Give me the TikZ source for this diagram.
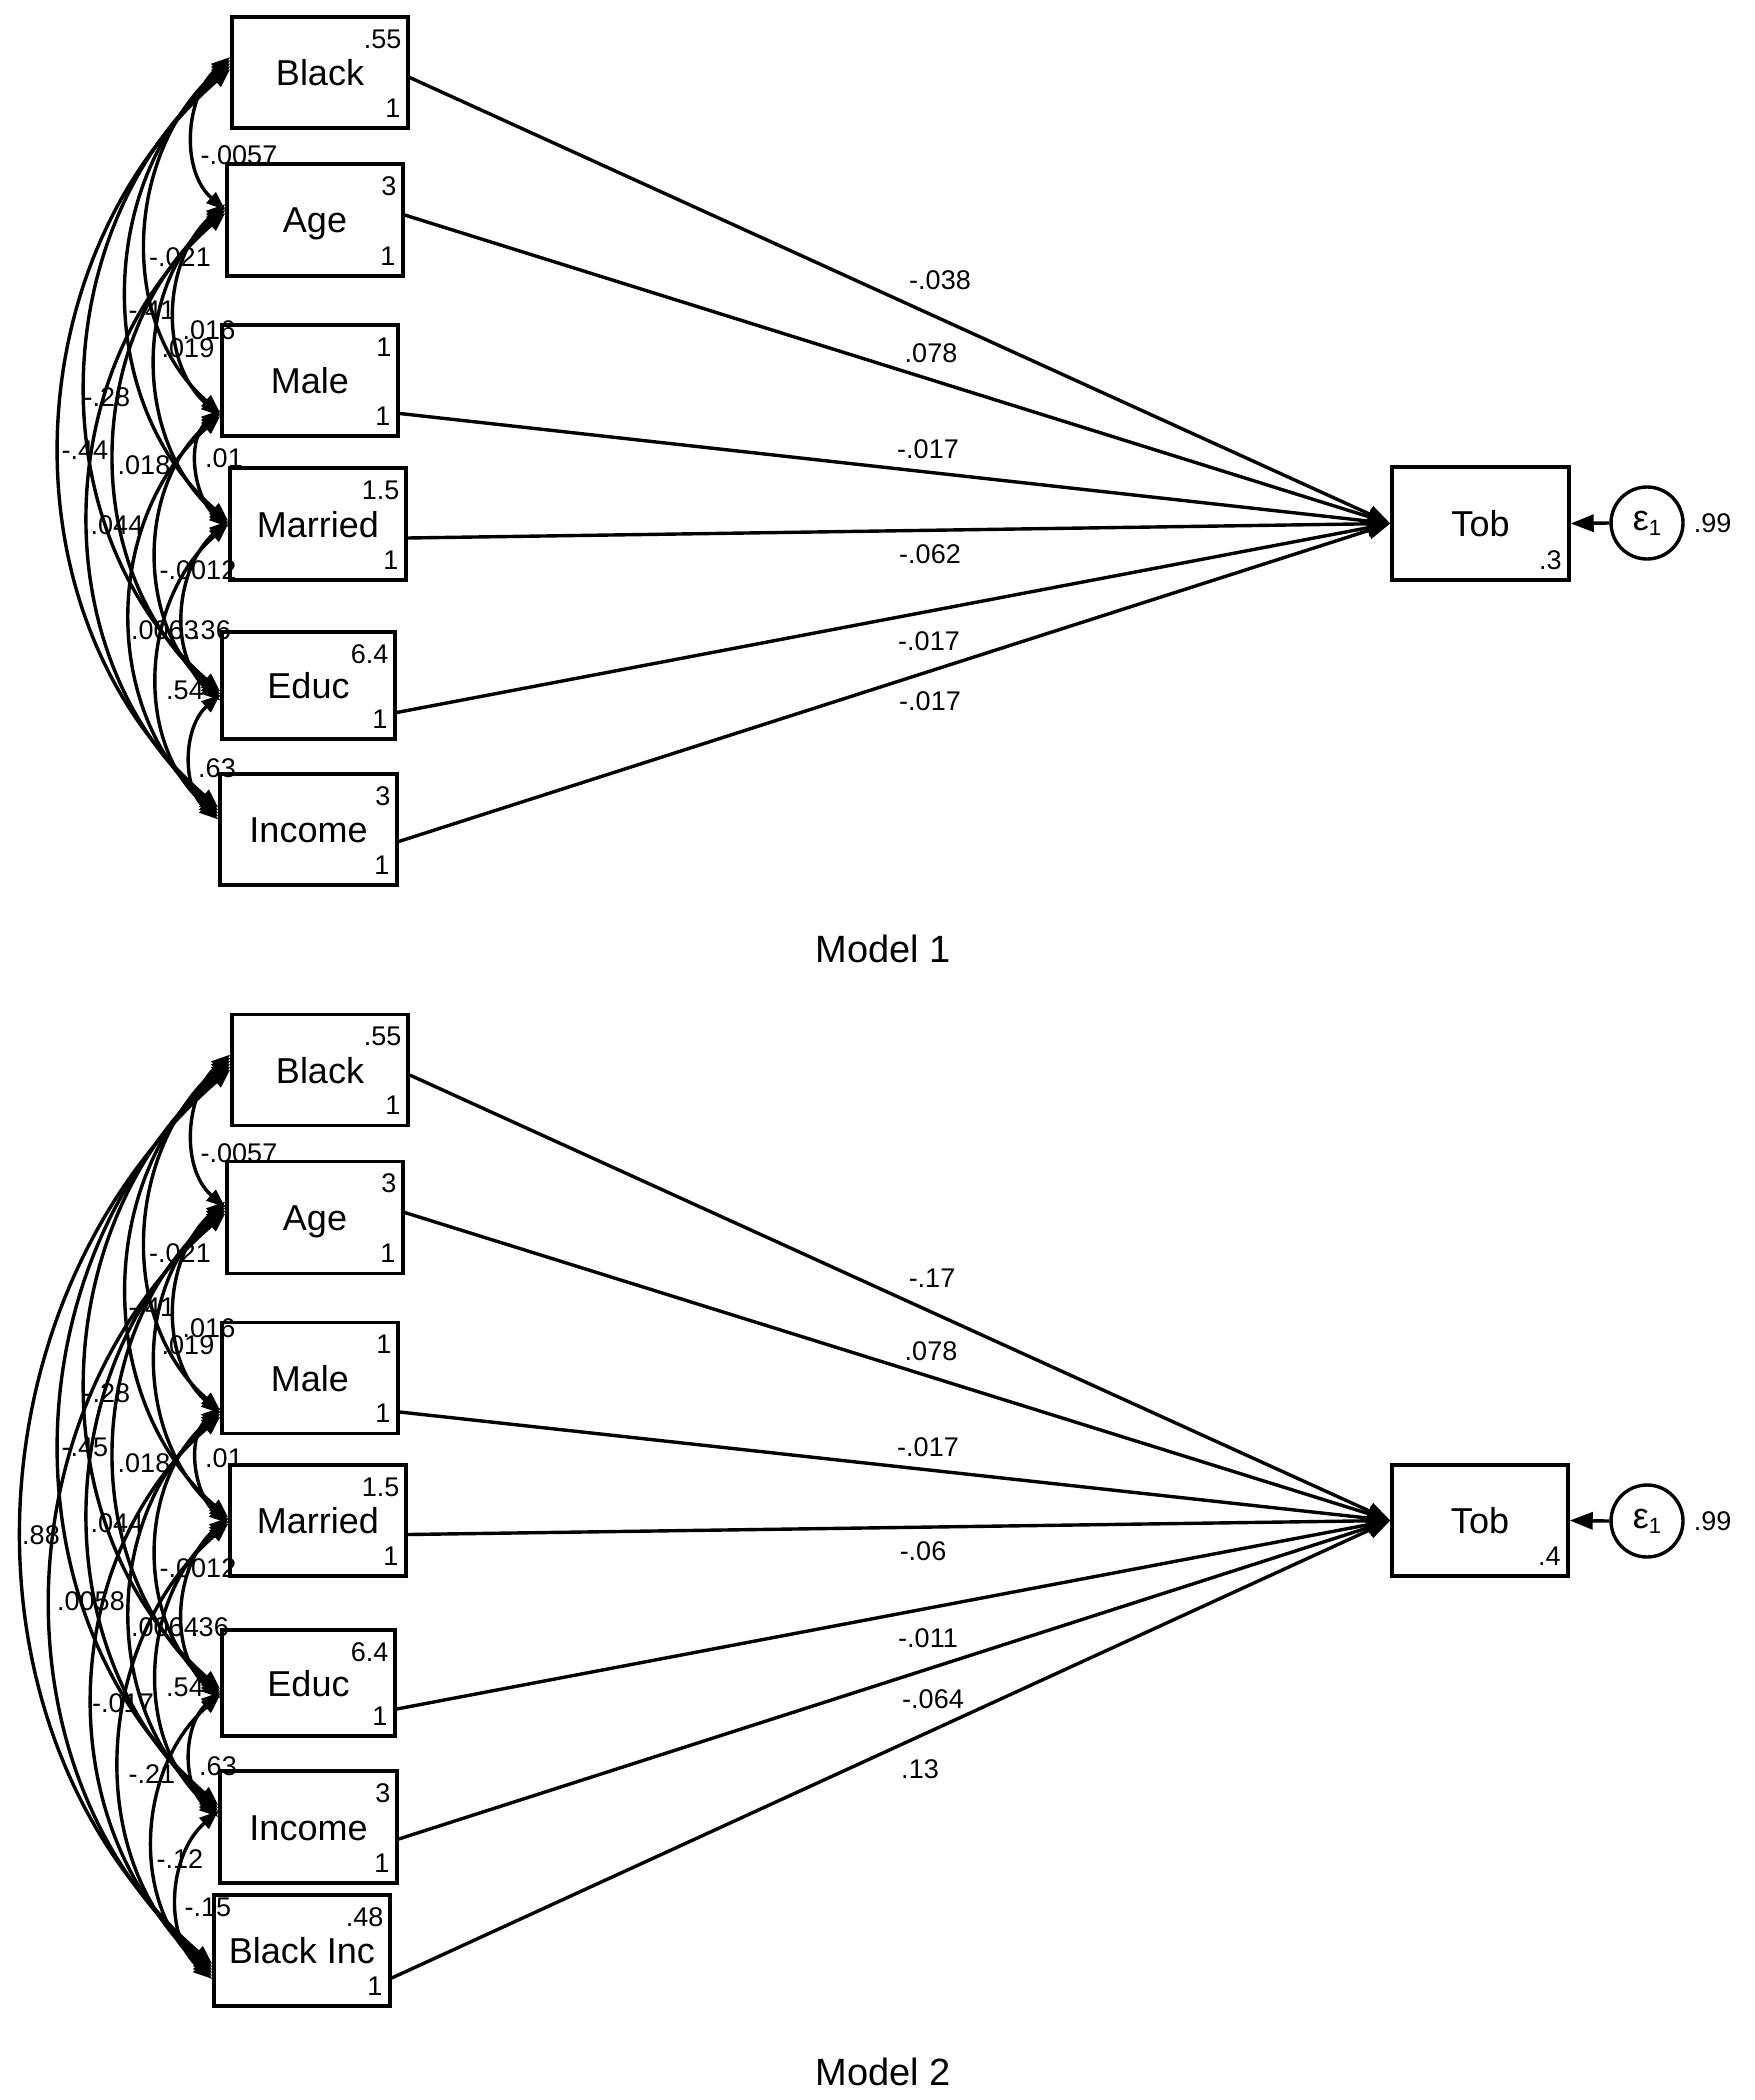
\documentclass[tikz,border=0pt]{standalone}
\usepackage{fontspec}
\setmainfont{Liberation Sans}
\usetikzlibrary{arrows.meta}
\tikzset{
  var/.style={draw, line width=3.4pt, minimum width=176pt, minimum height=111pt, inner sep=0pt,
    font=\fontsize{36}{36}\selectfont, text height=26pt, text depth=0pt},
  num/.style={inner sep=0pt, font=\fontsize{27}{27}\selectfont, text height=19.5pt, text depth=0pt, anchor=east},
  clab/.style={inner sep=0pt, font=\fontsize{27}{27}\selectfont, text height=19.5pt, text depth=0pt},
  cov/.style={line width=3.4pt, {Triangle[length=19pt,width=14pt]}-{Triangle[length=19pt,width=14pt]}},
  pth/.style={line width=3.4pt, -{Triangle[length=23pt,width=17pt]}},
  errc/.style={draw, circle, line width=3.4pt, minimum size=72pt, inner sep=0pt, font=\fontsize{36}{36}\selectfont},
  title/.style={inner sep=0pt, font=\fontsize{38}{38}\selectfont},
}
% #1 node A, #2 offset A (px down), #3 node B, #4 offset B, #5 label, #6 x, #7 y
\newcommand\covar[7]{%
  \draw[cov] ([yshift={-1pt*(#2)}]#1.west) to[out=221,in=139] ([yshift={-1pt*(#4)}]#3.west);
  \node[clab] at (#6,-#7) {#5};}
% #1 box, #2 top number, #3 bottom number
\newcommand\boxnums[3]{%
  \node[num] at ([xshift=-8pt,yshift=-23pt]#1.north east) {#2};
  \node[num] at ([xshift=-9pt,yshift=22pt]#1.south east) {#3};}
\newcommand\epsone{ε{\fontsize{22}{22}\selectfont\raisebox{-5pt}{1}}}
\begin{document}
\begin{tikzpicture}[x=1pt,y=1pt]
\useasboundingbox (0,0) rectangle (1754,-2100);
\fill[white] (0,0) rectangle (1754,-2100);

%================ Model 1 ================
\node[var] (m1b) at (320,-72.5) {Black};
\node[var, minimum height=112pt] (m1a) at (315,-220) {Age};
\node[var] (m1m) at (310,-380.5) {Male};
\node[var, minimum height=112pt] (m1r) at (318,-524) {Married};
\node[var, minimum width=173pt, minimum height=107pt] (m1e) at (308.5,-685.5) {Educ};
\node[var, minimum width=177pt] (m1i) at (308.5,-829.5) {Income};
\node[var, minimum width=177pt, minimum height=113pt] (m1t) at (1480.5,-523.5) {Tob};
\node[errc] (m1eps) at (1647,-523) {\epsone};
\node[clab, anchor=west] (m1epsv) at ([xshift=9pt]m1eps.east) {.99};
\boxnums{m1b}{.55}{1}
\boxnums{m1a}{3}{1}
\boxnums{m1m}{1}{1}
\boxnums{m1r}{1.5}{1}
\boxnums{m1e}{6.4}{1}
\boxnums{m1i}{3}{1}
\node[num] at ([xshift=-9pt,yshift=22pt]m1t.south east) {.3};

\draw[pth] ([yshift=-5pt]m1b.east) -- (m1t.west);
\draw[pth] ([yshift=5pt]m1a.east) -- (m1t.west);
\draw[pth] ([yshift=-33pt]m1m.east) -- (m1t.west);
\draw[pth] ([yshift=-14pt]m1r.east) -- (m1t.west);
\draw[pth] ([yshift=-27pt]m1e.east) -- (m1t.west);
\draw[pth] ([yshift=-12pt]m1i.east) -- (m1t.west);
\draw[pth] (m1eps.west) -- (m1t.east);
\node[clab] at (940,-280) {-.038};
\node[clab] at (931,-353) {.078};
\node[clab] at (928,-449) {-.017};
\node[clab] at (930,-554) {-.062};
\node[clab] at (929,-641) {-.017};
\node[clab] at (930,-701) {-.017};

\covar{m1b}{-15.5}{m1a}{-10}{-.0057}{239}{155}
\covar{m1a}{-16}{m1m}{35.5}{.016}{209}{330}
\covar{m1m}{29.5}{m1r}{3}{.01}{224}{458}
\covar{m1r}{-3}{m1e}{15}{.36}{212}{630}
\covar{m1e}{9}{m1i}{-10}{.63}{217}{768}
\covar{m1b}{-12.5}{m1m}{32.5}{-.021}{180}{257}
\covar{m1a}{-13}{m1r}{0}{.019}{188}{348}
\covar{m1m}{32.5}{m1e}{12}{-.0012}{198}{570}
\covar{m1r}{0}{m1i}{-13}{.54}{185}{690}
\covar{m1b}{-9.5}{m1r}{-3}{-.41}{152}{310}
\covar{m1a}{-10}{m1e}{9}{.018}{144}{465}
\covar{m1m}{35.5}{m1i}{-16}{.0063}{165}{630}
\covar{m1b}{-6.5}{m1e}{6}{-.28}{107}{397}
\covar{m1a}{-7}{m1i}{-19}{.044}{117}{525}
\covar{m1b}{-3.5}{m1i}{-22}{-.44}{85}{450}

\node[title] (m1title) at (883,-949) {Model 1};

%================ Model 2 ================
\begin{scope}[yshift=-997.5pt]
\node[var] (m2b) at (320,-72.5) {Black};
\node[var, minimum height=112pt] (m2a) at (315,-220) {Age};
\node[var] (m2m) at (310,-380.5) {Male};
\node[var] (m2r) at (318,-523) {Married};
\node[var, minimum width=173pt, minimum height=106pt] (m2e) at (308.5,-685.5) {Educ};
\node[var, minimum width=177pt, minimum height=112pt] (m2i) at (308.5,-829.5) {Income};
\node[var] (m2k) at (302,-953) {Black Inc};
\node[var] (m2t) at (1480,-523) {Tob};
\node[errc] (m2eps) at (1647,-523.5) {\epsone};
\node[clab, anchor=west] (m2epsv) at ([xshift=9pt]m2eps.east) {.99};
\boxnums{m2b}{.55}{1}
\boxnums{m2a}{3}{1}
\boxnums{m2m}{1}{1}
\boxnums{m2r}{1.5}{1}
\boxnums{m2e}{6.4}{1}
\boxnums{m2i}{3}{1}
\boxnums{m2k}{.48}{1}
\node[num] at ([xshift=-9pt,yshift=22pt]m2t.south east) {.4};

\draw[pth] ([yshift=-5pt]m2b.east) -- (m2t.west);
\draw[pth] ([yshift=5pt]m2a.east) -- (m2t.west);
\draw[pth] ([yshift=-34pt]m2m.east) -- (m2t.west);
\draw[pth] ([yshift=-14pt]m2r.east) -- (m2t.west);
\draw[pth] ([yshift=-26pt]m2e.east) -- (m2t.west);
\draw[pth] ([yshift=-12pt]m2i.east) -- (m2t.west);
\draw[pth] ([yshift=-27.5pt]m2k.east) -- (m2t.west);
\draw[pth] (m2eps.west) -- (m2t.east);
\node[clab] at (932,-280) {-.17};
\node[clab] at (931,-353.5) {.078};
\node[clab] at (928,-449.5) {-.017};
\node[clab] at (923,-553.5) {-.06};
\node[clab] at (928,-640.5) {-.011};
\node[clab] at (933,-701.5) {-.064};
\node[clab] at (920,-771.5) {.13};

\covar{m2b}{-15.5}{m2a}{-10}{-.0057}{239}{155}
\covar{m2a}{-16}{m2m}{35.5}{.016}{209}{330}
\covar{m2m}{29.5}{m2r}{3}{.01}{224}{460}
\covar{m2r}{-3}{m2e}{15}{.36}{210}{629}
\covar{m2e}{9}{m2i}{-10}{.63}{218}{768}
\covar{m2i}{-16}{m2k}{28.5}{-.15}{208}{909}
\covar{m2b}{-12.5}{m2m}{32.5}{-.021}{180}{255}
\covar{m2a}{-13}{m2r}{0}{.019}{188}{347}
\covar{m2m}{32.5}{m2e}{12}{-.0012}{198}{570}
\covar{m2r}{0}{m2i}{-13}{.54}{185}{689}
\covar{m2e}{12}{m2k}{25.5}{-.12}{180}{861}
\covar{m2b}{-9.5}{m2r}{-3}{-.41}{152}{309}
\covar{m2a}{-10}{m2e}{9}{.018}{144}{465}
\covar{m2m}{35.5}{m2i}{-16}{.0064}{165}{629}
\covar{m2r}{3}{m2k}{22.5}{-.21}{152}{776}
\covar{m2b}{-6.5}{m2e}{6}{-.28}{107}{395}
\covar{m2a}{-7}{m2i}{-19}{.044}{117}{525}
\covar{m2m}{38.5}{m2k}{19.5}{-.017}{123}{705}
\covar{m2b}{-3.5}{m2i}{-22}{-.45}{85}{449}
\covar{m2a}{-4}{m2k}{16.5}{.0058}{91}{603}
\covar{m2b}{-0.5}{m2k}{13.5}{.88}{41}{537}
\end{scope}

\node[title] (m2title) at (883,-2072) {Model 2};
\end{tikzpicture}
\end{document}
